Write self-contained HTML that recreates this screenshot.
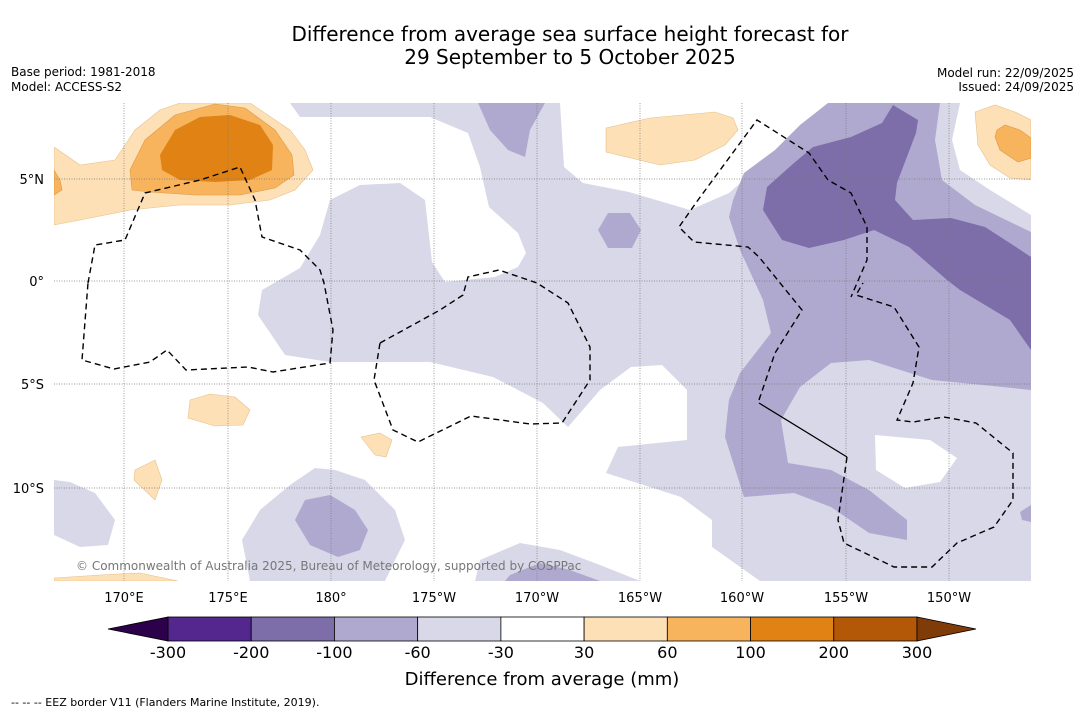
<!DOCTYPE html>
<html><head><meta charset="utf-8"><style>
body{margin:0;background:#fff;font-family:"Liberation Sans","DejaVu Sans",sans-serif;}
svg{display:block}
</style></head><body>
<svg width="1085" height="713" xmlns="http://www.w3.org/2000/svg" font-family="DejaVu Sans, Liberation Sans, sans-serif">
<rect width="1085" height="713" fill="#fff"/>
<text x="570" y="41" font-size="20" text-anchor="middle">Difference from average sea surface height forecast for</text>
<text x="570" y="64" font-size="20" text-anchor="middle">29 September to 5 October 2025</text>
<text x="11" y="76" font-size="12">Base period: 1981-2018</text>
<text x="11" y="91" font-size="12">Model: ACCESS-S2</text>
<text x="1074" y="77" font-size="12" text-anchor="end">Model run: 22/09/2025</text>
<text x="1074" y="91" font-size="12" text-anchor="end">Issued: 24/09/2025</text>

<defs><clipPath id="mapclip"><rect x="54" y="103" width="977" height="478"/></clipPath></defs>
<g clip-path="url(#mapclip)">
<rect x="54" y="103" width="977" height="478" fill="#fff"/>
<g fill="#d8d8e8">
<polygon points="290,103 960,103 952,140 960,170 990,190 1031,215 1031,581 760,581 712,547 712,520 681,497 606,473 618,447 687,440 687,390 662,365 631,367 600,390 568,427 543,403 493,377 430,362 330,362 285,355 258,315 262,290 300,268 320,235 330,200 360,185 400,183 425,200 432,262 445,282 495,277 518,267 526,253 518,233 489,207 480,167 468,133 430,117 300,117"/>
<polygon points="54,480 70,482 95,493 115,520 108,545 80,547 54,535"/>
<polygon points="315,468 335,470 365,480 395,510 405,540 395,560 385,581 250,581 242,540 260,510 290,485"/>
<polygon points="480,560 520,543 560,550 600,565 640,581 475,581"/>
</g>
<g fill="#fff">
<polygon points="560,103 564,167 583,183 629,192 690,210 729,193 775,153 813,120 835,103"/>
<polygon points="875,435 930,440 957,458 940,482 905,488 876,470"/>
</g>
<g fill="#b0a9cf">
<polygon points="828,103 940,103 935,140 942,180 975,205 1031,232 1031,390 963,383 932,380 869,360 831,363 800,387 781,420 788,463 831,470 869,490 907,520 907,540 869,533 831,507 794,493 744,497 725,437 731,380 729,400 740,373 771,333 763,300 740,250 729,217 733,200 744,173 775,150 800,125"/>
<polygon points="598,230 608,213 630,213 641,230 632,248 608,248"/>
<polygon points="478,103 545,103 530,130 525,157 508,150 490,130"/>
<polygon points="330,495 355,510 368,530 360,550 338,557 310,545 295,520 305,500"/>
<polygon points="510,575 540,563 570,570 600,581 505,581"/>
<polygon points="1020,512 1031,505 1031,522 1022,520"/>
</g>
<polygon fill="#7d6ea9" points="893,105 918,120 916,133 897,183 895,200 913,220 951,218 985,227 1016,247 1031,257 1031,350 1010,320 960,290 947,280 909,247 874,230 844,240 809,248 782,240 763,210 767,187 794,163 813,147 851,137 882,123"/>
<g fill="#fde0b6" stroke="#e8c08a" stroke-width="0.6">
<polygon points="54,147 80,165 115,160 135,130 160,110 180,103 250,103 290,130 305,150 313,170 295,190 270,200 230,205 180,205 130,210 80,220 54,225"/>
<polygon points="606,128 650,118 715,112 733,118 738,130 725,145 695,160 660,165 606,152"/>
<polygon points="975,112 995,105 1015,112 1031,120 1031,180 1010,178 990,165 978,145"/>
<polygon points="190,400 210,394 235,397 250,410 243,425 215,426 188,418"/>
<polygon points="361,437 380,433 392,440 386,457 375,455"/>
<polygon points="135,470 155,460 162,480 155,500 134,480"/>
<polygon points="54,578 100,575 140,573 178,581 54,581"/>
</g>
<g fill="#f8b35d" stroke="#d99a4a" stroke-width="0.6">
<polygon points="130,170 145,140 175,115 215,104 245,108 275,130 292,155 294,175 275,188 240,195 195,195 150,192 132,190"/>
<polygon points="997,130 1005,125 1020,130 1031,138 1031,158 1018,162 1000,150 995,137"/>
<polygon points="54,170 60,180 62,190 54,195"/>
</g>
<polygon fill="#e08214" points="160,155 175,130 200,117 230,115 260,125 273,145 272,170 250,180 215,182 180,180 162,170"/>
<g stroke="#777" stroke-width="0.7" stroke-dasharray="1,1.5">
<line x1="124" y1="103" x2="124" y2="581"/><line x1="228" y1="103" x2="228" y2="581"/><line x1="331" y1="103" x2="331" y2="581"/><line x1="434" y1="103" x2="434" y2="581"/><line x1="537" y1="103" x2="537" y2="581"/><line x1="640" y1="103" x2="640" y2="581"/><line x1="742" y1="103" x2="742" y2="581"/><line x1="846" y1="103" x2="846" y2="581"/><line x1="949" y1="103" x2="949" y2="581"/>
<line x1="54" y1="179" x2="1031" y2="179"/><line x1="54" y1="281" x2="1031" y2="281"/><line x1="54" y1="384" x2="1031" y2="384"/><line x1="54" y1="488" x2="1031" y2="488"/>
</g>
<g fill="none" stroke="#000" stroke-width="1.4" stroke-dasharray="6,4">
<polyline points="88,283 95,245 125,240 145,193 200,180 240,167 255,200 262,237 300,250 320,270 324,283 333,330 330,363 273,372 248,367 186,370 167,350 150,362 114,369 82,360 88,283"/>
<polyline points="380,343 440,310 463,295 468,277 499,270 537,283 568,303 590,347 590,380 562,423 530,424 471,416 418,442 393,430 374,380 380,343"/>
<polyline points="759,400 775,353 802,310 759,257 748,247 694,242 679,227 698,200 757,120 809,153 828,180 851,193 867,227 867,260 851,297"/>
<polyline points="847,457 838,520 844,543 894,567 932,567 957,543 994,527 1013,500 1013,453 976,423 944,417 913,422 897,420 913,383 919,347 894,307 856,295 863,283"/>
</g>
<line x1="759" y1="403" x2="847" y2="457" stroke="#000" stroke-width="1.3"/>
<text x="76" y="570" font-size="12" fill="#777">© Commonwealth of Australia 2025, Bureau of Meteorology, supported by COSPPac</text>
</g>
<g font-size="13">
<text x="44" y="184" text-anchor="end">5°N</text><text x="44" y="286" text-anchor="end">0°</text><text x="44" y="389" text-anchor="end">5°S</text><text x="44" y="493" text-anchor="end">10°S</text>
</g>
<g font-size="13" text-anchor="middle">
<text x="124" y="602">170°E</text><text x="228" y="602">175°E</text><text x="331" y="602">180°</text><text x="434" y="602">175°W</text><text x="537" y="602">170°W</text><text x="640" y="602">165°W</text><text x="742" y="602">160°W</text><text x="846" y="602">155°W</text><text x="949" y="602">150°W</text>
</g>
<g id="colorbar"></g>
<text x="542" y="685" font-size="18" text-anchor="middle">Difference from average (mm)</text>
<text x="11" y="706" font-size="11">--  --  -- EEZ border V11 (Flanders Marine Institute, 2019).</text>
</svg>
<script>
const binLabels = ['-300','-200','-100','-60','-30','30','60','100','200','300'];
const binColors = ['#54278f','#7d6ea9','#b0a9cf','#d8d8e8','#ffffff','#fde0b6','#f8b35d','#e08214','#b35806'];
const extendColors = ['#2d004b','#7f3b08'];
const NS='http://www.w3.org/2000/svg';
const cb=document.getElementById('colorbar');
const x0=168,x1=917,y0=617,h=24;
const bx=i=>x0+(x1-x0)*i/(binLabels.length-1);
function mk(t,a){const e=document.createElementNS(NS,t);for(const k in a)e.setAttribute(k,a[k]);cb.appendChild(e);return e;}
binColors.forEach((c,i)=>{
  const r=mk('rect',{x:bx(i),y:y0,width:bx(i+1)-bx(i),height:h,fill:c,stroke:'#000','stroke-width':0.8});
  
  
});
const lt=mk('polygon',{points:`${x0},${y0} ${x0},${y0+h} 108,${y0+h/2}`,fill:extendColors[0],stroke:'#000','stroke-width':0.8});


const rt=mk('polygon',{points:`${x1},${y0} ${x1},${y0+h} 976,${y0+h/2}`,fill:extendColors[1],stroke:'#000','stroke-width':0.8});


binLabels.forEach((l,i)=>{
  const t=mk('text',{x:bx(i),y:658,'font-size':16,'text-anchor':'middle'});
  t.textContent=l;
  
  
});
</script>
</body></html>
